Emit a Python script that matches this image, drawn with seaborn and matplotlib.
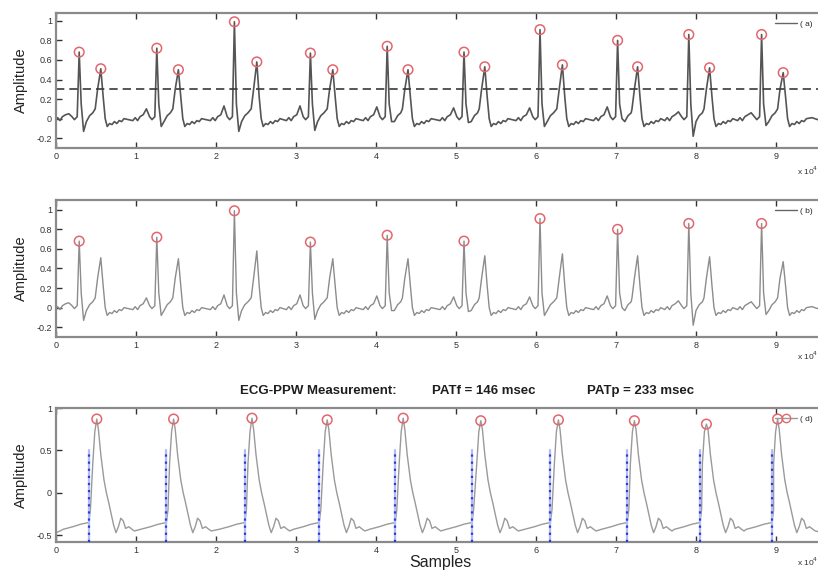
import numpy as np
import pandas as pd
import matplotlib
matplotlib.use("Agg")
import matplotlib.pyplot as plt
from matplotlib.lines import Line2D
import seaborn as sns

# ---------------- ECG beats (x in units of 10^4 samples) ----------------
r_pos = [0.29, 1.26, 2.23, 3.18, 4.14, 5.10, 6.05, 7.02, 7.91, 8.82]
r_amp = [0.68, 0.72, 0.99, 0.67, 0.74, 0.68, 0.91, 0.80, 0.86, 0.86]
t_pos = [0.56, 1.53, 2.51, 3.46, 4.40, 5.36, 6.33, 7.27, 8.17, 9.09]
t_amp = [0.51, 0.50, 0.58, 0.50, 0.50, 0.53, 0.55, 0.53, 0.52, 0.47]
s_amp = [-0.13, -0.08, -0.13, -0.12, -0.03, -0.04, -0.08, 0.00, -0.18, -0.07]
p_amp = [0.05, 0.10, 0.13, 0.13, 0.12, 0.11, 0.11, 0.12, 0.07, 0.06]

# beat shape: segment before R (offsets from R), P wave at index 5
ecg_pre_off = [-0.30, -0.27, -0.24, -0.21, -0.17, -0.13, -0.09, -0.06, -0.025]
ecg_pre_val = [-0.02, 0.01, -0.02, 0.02, 0.04, None, 0.02, -0.01, 0.02]
# segment between S and T (offsets from R)
ecg_st_off = [0.09, 0.13, 0.17]
ecg_st_val = [-0.03, 0.03, 0.06]
# T wave and recovery (offsets from T)
ecg_t_off = [-0.07, -0.04, 0.0, 0.03, 0.055, 0.08, 0.11, 0.14, 0.17, 0.20, 0.23, 0.26, 0.29]
ecg_t_val = [0.10, 0.30, None, 0.22, 0.00, -0.08, -0.05, -0.06, -0.03, -0.05, -0.02, -0.03, 0.00]
ecg_head = ([0.0], [0.02])
ecg_tail = ([9.45, 9.52, 9.60], [0.01, -0.01, 0.03])
threshold = 0.3

# ---------------- pulse wave ----------------
foot_pos = [0.41, 1.38, 2.36, 3.29, 4.24, 5.20, 6.18, 7.14, 8.05, 8.95]
ppg_pos = [0.51, 1.47, 2.45, 3.39, 4.34, 5.31, 6.28, 7.23, 8.13, 9.02]
ppg_amp = [0.87, 0.87, 0.88, 0.86, 0.88, 0.85, 0.86, 0.85, 0.81, 0.87]
ppg_pre_off = [-0.32, -0.20, -0.10, 0.0, 0.02]
ppg_pre_val = [-0.43, -0.40, -0.37, -0.35, -0.20]
ppg_pk_off = [-0.05, -0.025, 0.0, 0.02, 0.05, 0.09, 0.12, 0.15, 0.18, 0.21, 0.24,
              0.27, 0.30, 0.33, 0.36, 0.40, 0.44, 0.47]
ppg_pk_val = [0.35, 0.72, None, 0.75, 0.45, 0.15, 0.00, -0.12, -0.25, -0.38, -0.47,
              -0.40, -0.30, -0.33, -0.42, -0.40, -0.43, -0.45]
ppg_head = ([0.0, 0.05], [-0.47, -0.45])
ppg_tail = ([9.60], [-0.47])
foot_mark_top = 0.5

title_parts = ["ECG-PPW Measurement:", "PATf = 146 msec", "PATp = 233 msec"]


def ecg_trace():
    xs, ys = list(ecg_head[0]), list(ecg_head[1])
    for R, Ra, T, Ta, S, P in zip(r_pos, r_amp, t_pos, t_amp, s_amp, p_amp):
        for o, v in zip(ecg_pre_off, ecg_pre_val):
            xs.append(R + o); ys.append(P if v is None else v)
        xs += [R, R + 0.025, R + 0.055]
        ys += [Ra, 0.15, S]
        for o, v in zip(ecg_st_off, ecg_st_val):
            xs.append(R + o); ys.append(v)
        for o, v in zip(ecg_t_off, ecg_t_val):
            xs.append(T + o); ys.append(Ta if v is None else v)
    xs += ecg_tail[0]; ys += ecg_tail[1]
    return pd.DataFrame({"x": xs, "y": ys})


def ppg_trace():
    xs, ys = list(ppg_head[0]), list(ppg_head[1])
    for F, Pk, A in zip(foot_pos, ppg_pos, ppg_amp):
        for o, v in zip(ppg_pre_off, ppg_pre_val):
            xs.append(F + o); ys.append(v)
        for o, v in zip(ppg_pk_off, ppg_pk_val):
            xs.append(Pk + o); ys.append(A if v is None else v)
    xs += ppg_tail[0]; ys += ppg_tail[1]
    return pd.DataFrame({"x": xs, "y": ys})


sns.set_style("ticks")
plt.rcParams["font.family"] = ["Liberation Sans", "DejaVu Sans"]
plt.rcParams["xtick.direction"] = "in"
plt.rcParams["ytick.direction"] = "in"

W, H = 818, 574
fig = plt.figure(figsize=(W / 100, H / 100), dpi=100)


def make_axes(top_px, bottom_px):
    left, right = 56, 824
    return fig.add_axes([left / W, 1 - bottom_px / H, (right - left) / W,
                         (bottom_px - top_px) / H])


def style(ax, ylim, yticks, yticklabels):
    ax.set_xlim(0, 9.6)
    ax.set_ylim(*ylim)
    ax.set_xticks(range(10))
    ax.set_xticklabels([str(i) for i in range(10)])
    ax.set_yticks(yticks)
    ax.set_yticklabels(yticklabels)
    ax.tick_params(axis="both", which="both", labelsize=6.5, colors="#333333",
                   top=True, right=True, length=4, width=1.0, pad=3)
    for s in ax.spines.values():
        s.set_color("#8a8a8a")
        s.set_linewidth(1.6)
    ax.set_ylabel("Amplitude", fontsize=10.5, color="#222222", labelpad=6)
    ax.set_xlabel("")


circle_kw = dict(s=48, facecolors="none", edgecolors="#e2676d", linewidths=1.1, zorder=5)
ecg = ecg_trace()
ppg = ppg_trace()

# (a) all peaks above the threshold
ax1 = make_axes(13, 148)
sns.lineplot(data=ecg, x="x", y="y", ax=ax1, color="#555555", linewidth=1.2,
             estimator=None, sort=False)
ax1.axhline(threshold, color="#3a3a3a", linestyle=(0, (5, 3)), linewidth=1.2)
ax1.scatter(r_pos + t_pos, r_amp + t_amp, **circle_kw)
style(ax1, (-0.3, 1.08), [-0.2, 0, 0.2, 0.4, 0.6, 0.8, 1],
      ["-0.2", "0", "0.2", "0.4", "0.6", "0.8", "1"])
ax1.legend([Line2D([], [], color="#666666", lw=1)], ["( a)"], loc="upper right",
           bbox_to_anchor=(0.995, 1.0), frameon=False, fontsize=6, handlelength=2.6,
           handletextpad=0.4)

# (b) R peaks only
ax2 = make_axes(200, 337)
sns.lineplot(data=ecg, x="x", y="y", ax=ax2, color="#8c8c8c", linewidth=1.0,
             estimator=None, sort=False)
ax2.scatter(r_pos, r_amp, **circle_kw)
style(ax2, (-0.3, 1.1), [-0.2, 0, 0.2, 0.4, 0.6, 0.8, 1],
      ["-0.2", "0", "0.2", "0.4", "0.6", "0.8", "1"])
ax2.legend([Line2D([], [], color="#666666", lw=1)], ["( b)"], loc="upper right",
           bbox_to_anchor=(0.995, 1.0), frameon=False, fontsize=6, handlelength=2.6,
           handletextpad=0.4)

# (d) pulse wave with ECG-based markers
ax3 = make_axes(408, 542)
sns.lineplot(data=ppg, x="x", y="y", ax=ax3, color="#9a9a9a", linewidth=1.0,
             estimator=None, sort=False)
for f in foot_pos:
    ax3.plot([f, f], [-0.58, foot_mark_top], color="#b3bcf6", linewidth=1.6, zorder=3)
    ax3.plot([f, f], [-0.58, foot_mark_top], color="#2b3bd6", linewidth=1.6,
             linestyle=(0, (1, 2.2)), zorder=4)
ax3.scatter(ppg_pos, ppg_amp, **circle_kw)
style(ax3, (-0.58, 1.0), [-0.5, 0, 0.5, 1], ["-0.5", "0", "0.5", "1"])
ax3.legend([Line2D([], [], color="#999999", lw=1, marker="o", markerfacecolor="none",
                   markeredgecolor="#e2676d", markersize=6)], ["( d)"],
           loc="upper right", bbox_to_anchor=(0.995, 1.0), frameon=False, fontsize=6,
           handlelength=2.6, handletextpad=0.4)

# title pieces spaced like a MATLAB sprintf title
for xpx, txt in zip((240, 432, 587), title_parts):
    fig.text(xpx / W, 1 - 391 / H, txt, fontsize=9.5, fontweight="bold",
             color="#1e1e1e", ha="left", va="center")

fig.text(440 / W, 1 - 563 / H, "Samples", fontsize=11.5, color="#222222",
         ha="center", va="center")

for ypx in (171, 356, 562):
    fig.text(797 / W, 1 - ypx / H, "x 10$^4$", fontsize=6, color="#333333",
             va="center", ha="left")

fig.savefig("out.png", dpi=100)
